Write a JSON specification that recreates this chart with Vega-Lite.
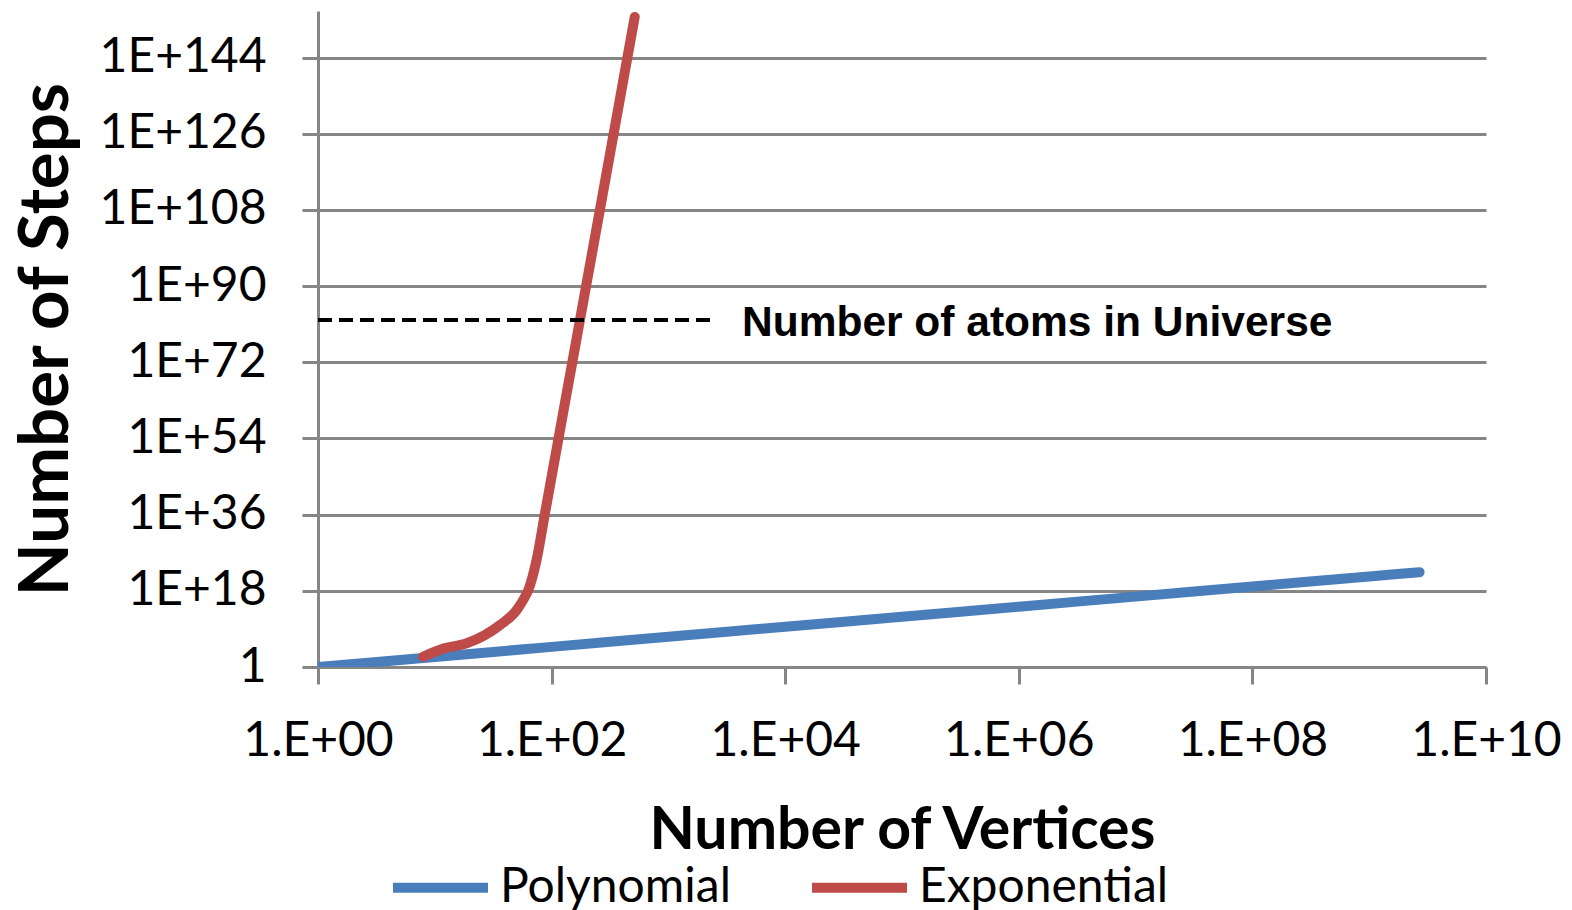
{
  "$schema": "https://vega.github.io/schema/vega-lite/v6.json",
  "width": 1168,
  "height": 656,
  "autosize": {"type": "none"},
  "padding": {"left": 318, "top": 11, "right": 86, "bottom": 243},
  "background": "white",
  "config": {
    "view": {"stroke": null},
    "font": "Lato",
    "axis": {
      "labelFont": "Lato",
      "labelFontSize": 48,
      "labelColor": "#000000",
      "titleFont": "Lato",
      "titleFontWeight": "bold",
      "titleColor": "#000000",
      "domainColor": "#868686",
      "domainWidth": 3,
      "tickColor": "#868686",
      "tickWidth": 3,
      "gridColor": "#868686",
      "gridWidth": 3
    }
  },
  "datasets": {
    "curves": [
      {"n": 1, "steps": 1, "series": "Polynomial"},
      {"n": 10, "steps": 237.7, "series": "Polynomial"},
      {"n": 100, "steps": 56490, "series": "Polynomial"},
      {"n": 1000, "steps": 1.343e7, "series": "Polynomial"},
      {"n": 10000, "steps": 3.19e9, "series": "Polynomial"},
      {"n": 100000, "steps": 7.59e11, "series": "Polynomial"},
      {"n": 1000000, "steps": 1.803e14, "series": "Polynomial"},
      {"n": 10000000, "steps": 4.29e16, "series": "Polynomial"},
      {"n": 100000000, "steps": 1.019e19, "series": "Polynomial"},
      {"n": 1000000000, "steps": 2.42e21, "series": "Polynomial"},
      {"n": 2700000000, "steps": 2.56e22, "series": "Polynomial"},
      {"n": 7.93, "steps": 269, "series": "Exponential"},
      {"n": 12.0, "steps": 2.5e4, "series": "Exponential"},
      {"n": 18.75, "steps": 3.9e5, "series": "Exponential"},
      {"n": 36.2, "steps": 8.3e9, "series": "Exponential"},
      {"n": 50.3, "steps": 2.9e13, "series": "Exponential"},
      {"n": 59.2, "steps": 4e16, "series": "Exponential"},
      {"n": 62.8, "steps": 1e18, "series": "Exponential"},
      {"n": 74.3, "steps": 1.8e25, "series": "Exponential"},
      {"n": 87.8, "steps": 2.2e36, "series": "Exponential"},
      {"n": 150.4, "steps": 1e72, "series": "Exponential"},
      {"n": 259.6, "steps": 1.3e108, "series": "Exponential"},
      {"n": 515, "steps": 4e153, "series": "Exponential"}
    ],
    "atoms": [
      {"n": 1, "steps": 1e82},
      {"n": 2500, "steps": 1e82}
    ],
    "note": [
      {"n": 4266, "steps": 1e82, "label": "Number of atoms in Universe"}
    ]
  },
  "layer": [
    {
      "data": {"name": "curves"},
      "mark": {"type": "line", "strokeWidth": 10, "strokeCap": "round", "strokeJoin": "round", "clip": true, "interpolate": "monotone"},
      "encoding": {
        "x": {
          "field": "n", "type": "quantitative",
          "scale": {"type": "log", "domain": [1, 1e10], "nice": false},
          "axis": {
            "values": [1, 100, 10000, 1000000, 100000000, 10000000000],
            "labelExpr": "'1.E+' + (round(log(datum.value)/LN10) < 10 ? '0' : '') + round(log(datum.value)/LN10)",
            "labelFlush": false,
            "labelOverlap": false,
            "grid": false,
            "tickSize": 17,
            "labelPadding": 33,
            "title": "Number of Vertices",
            "titleFontSize": 59,
            "titleBaseline": "alphabetic",
            "titleY": 181
          }
        },
        "y": {
          "field": "steps", "type": "quantitative",
          "scale": {"type": "log", "domain": [1, 1e155], "nice": false},
          "axis": {
            "values": [1, 1e18, 1e36, 1e54, 1e72, 1e90, 1e108, 1e126, 1e144],
            "labelExpr": "datum.value <= 1 ? '1' : '1E+' + round(log(datum.value)/LN10)",
            "labelOverlap": false,
            "grid": true,
            "tickSize": 16,
            "labelPadding": 36,
            "title": "Number of Steps",
            "titleFontSize": 69,
            "titleBaseline": "alphabetic",
            "titleX": -251
          }
        },
        "color": {
          "field": "series", "type": "nominal",
          "scale": {"domain": ["Polynomial", "Exponential"], "range": ["#4A7EBB", "#BE4B48"]},
          "legend": {
            "orient": "none",
            "direction": "horizontal",
            "legendX": 70,
            "legendY": 824,
            "padding": 0,
            "title": null,
            "symbolType": "stroke",
            "symbolSize": 9025,
            "symbolStrokeWidth": 10,
            "labelFont": "Lato",
            "labelFontSize": 48,
            "labelColor": "#000000",
            "labelOffset": 7,
            "columnPadding": 60,
            "labelLimit": 400
          }
        },
        "order": {"field": "n", "type": "quantitative"}
      }
    },
    {
      "data": {"name": "atoms"},
      "mark": {"type": "line", "color": "#000000", "strokeWidth": 4, "strokeDash": [14, 7]},
      "encoding": {
        "x": {"field": "n", "type": "quantitative"},
        "y": {"field": "steps", "type": "quantitative"}
      }
    },
    {
      "data": {"name": "note"},
      "mark": {"type": "text", "font": "Liberation Sans", "fontWeight": "bold", "fontSize": 42.5, "align": "left", "baseline": "middle", "color": "#000000", "dy": 3},
      "encoding": {
        "x": {"field": "n", "type": "quantitative"},
        "y": {"field": "steps", "type": "quantitative"},
        "text": {"field": "label"}
      }
    }
  ]
}
